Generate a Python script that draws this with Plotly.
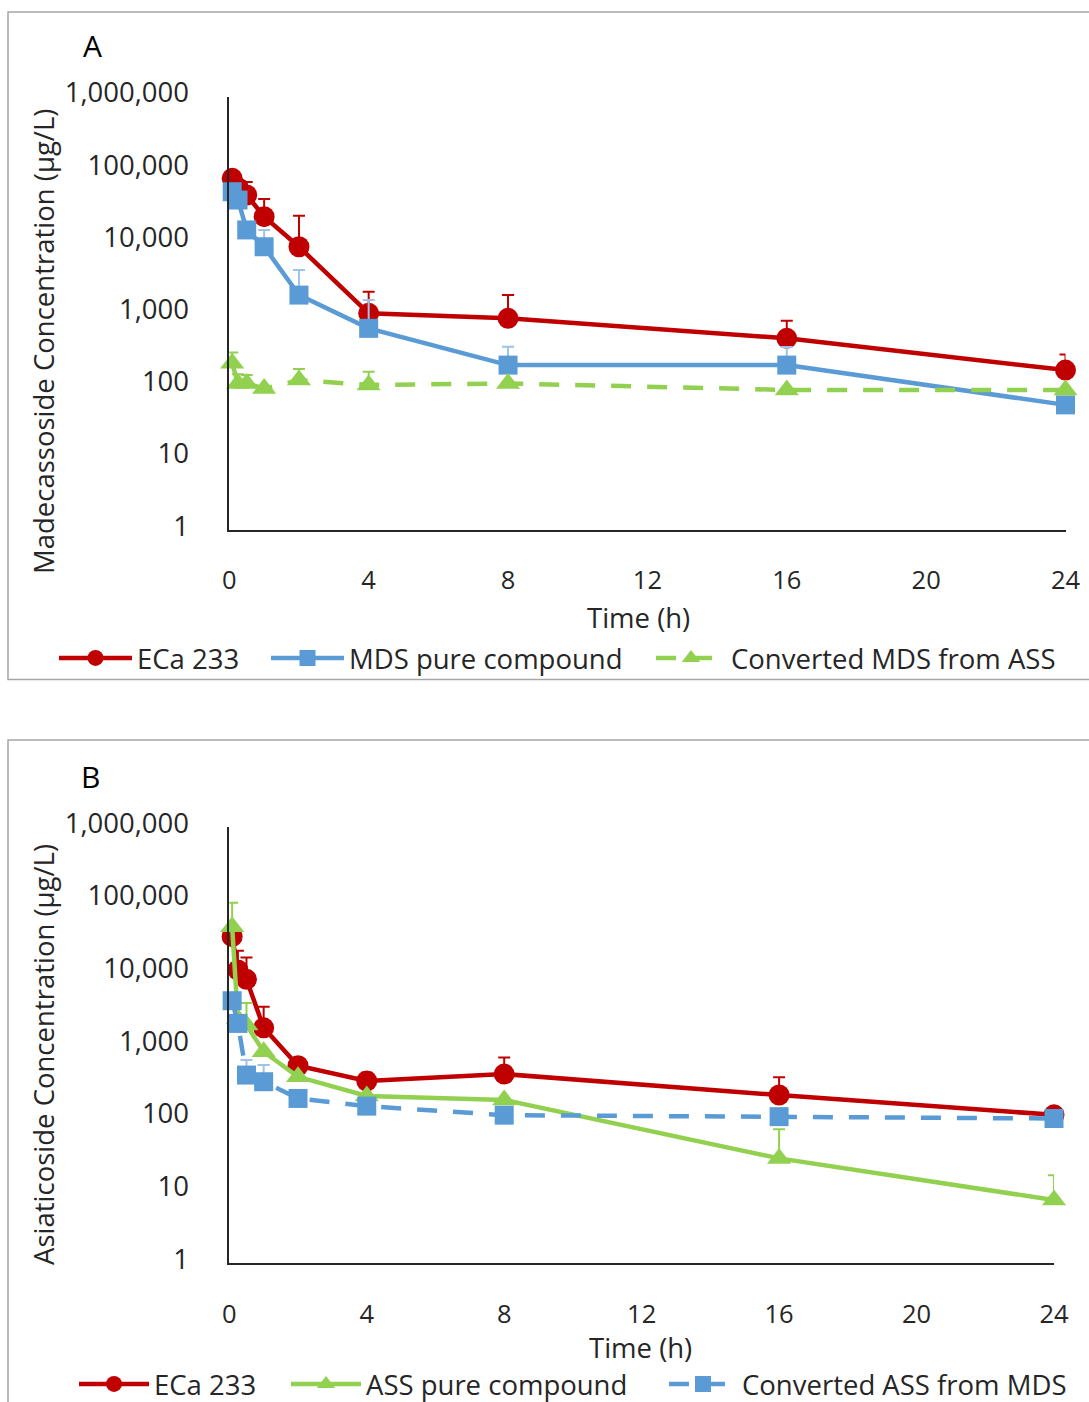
import plotly.graph_objects as go

W, H = 1089, 1402

# ---------------- data ----------------
time_h = [0.083, 0.25, 0.5, 1, 2, 4, 8, 16, 24]
x_ticks = [0, 4, 8, 12, 16, 20, 24]
y_ticks = [1, 10, 100, 1000, 10000, 100000, 1000000]
y_ticktext = ["1", "10", "100", "1,000", "10,000", "100,000", "1,000,000"]

# Panel A: Madecassoside (MDS) concentration, ug/L
a_eca = [74000, 55000, 43500, 21800, 8360, 1000, 853, 451, 164]
a_eca_err = [0, 0, 22400, 16500, 14100, 990, 940, 340, 106]
a_mds = [48300, 37100, 14300, 8360, 1790, 620, 192, 192, 54]
a_mds_err = [0, 0, 0, 5900, 2190, 910, 152, 150, 0]
a_conv = [203, 107, 107, 91, 119, 102, 107, 87, 87]
a_conv_err = [85, 37, 33, 0, 50, 53, 0, 0, 0]

# Panel B: Asiaticoside (ASS) concentration, ug/L
b_eca = [31000, 10800, 8040, 1730, 521, 321, 400, 206, 110]
b_eca_err = [0, 9100, 8060, 1640, 0, 96, 279, 155, 0]
b_ass = [42500, 2300, 1900, 811, 367, 200, 176, 27.7, 7.4]
b_ass_err = [48500, 1490, 1890, 0, 0, 0, 0, 42, 8.9]
b_conv = [4080, 1990, 388, 314, 185, 145, 109, 104, 98]
b_conv_err = [0, 0, 236, 218, 0, 0, 0, 0, 0]

RED, BLUE, GREEN = "#C00000", "#5B9BD5", "#92D050"
BLUE_ERR = "#9DC3E6"
FONT = "Open Sans"
TXT = "#262626"
FS = 27.5


def px_x(p):
    return p / W


def px_y(p):
    return 1 - p / H


def series(x, y, err, name, color, symbol, size, dash, xa, ya, legend, errcolor=None):
    return go.Scatter(
        x=x, y=y, name=name, mode="lines+markers",
        line=dict(color=color, width=4.5, dash=dash),
        marker=dict(color=color, symbol=symbol, size=size, line=dict(width=0)),
        error_y=dict(type="data", array=err, arrayminus=[0] * len(err), symmetric=False,
                     color=errcolor or color, thickness=2, width=6),
        xaxis=xa, yaxis=ya, legend=legend, cliponaxis=False,
    )


fig = go.Figure()
fig.add_trace(series(time_h, a_eca, a_eca_err, "ECa 233", RED, "circle", 21, "solid", "x", "y", "legend"))
fig.add_trace(series(time_h, a_mds, a_mds_err, "MDS pure compound", BLUE, "square", 19, "solid", "x", "y", "legend2", BLUE_ERR))
fig.add_trace(series(time_h, a_conv, a_conv_err, "Converted MDS from ASS", GREEN, "triangle-up", 21, "20px,16px", "x", "y", "legend3"))

fig.add_trace(series(time_h, b_eca, b_eca_err, "ECa 233", RED, "circle", 21, "solid", "x2", "y2", "legend4"))
fig.add_trace(series(time_h, b_ass, b_ass_err, "ASS pure compound", GREEN, "triangle-up", 21, "solid", "x2", "y2", "legend5"))
fig.add_trace(series(time_h, b_conv, b_conv_err, "Converted ASS from MDS", BLUE, "square", 19, "20px,16px", "x2", "y2", "legend6", BLUE_ERR))

xcommon = dict(range=[0, 24], tickvals=x_ticks, showline=True, linecolor="#262626", linewidth=1.5,
               showgrid=False, zeroline=False, ticks="", ticklabelstandoff=27, automargin=False,
               tickfont=dict(family=FONT, size=25.5, color=TXT))
ycommon = dict(type="log", range=[0, 6], tickvals=y_ticks, ticktext=y_ticktext, showline=True,
               linecolor="#262626", linewidth=1.5, showgrid=False, zeroline=False, ticks="",
               automargin=False, ticklabelstandoff=33, ticklabelshift=-4,
               tickfont=dict(family=FONT, size=FS, color=TXT))


def leg(xp, yp, iw):
    return dict(orientation="h", x=px_x(xp), y=px_y(yp), xanchor="left", yanchor="middle",
                font=dict(family=FONT, size=FS, color=TXT), itemwidth=iw, bgcolor="rgba(0,0,0,0)")


fig.update_layout(
    width=W, height=H, autosize=False,
    margin=dict(l=0, r=0, t=0, b=0, pad=0, autoexpand=False),
    paper_bgcolor="white", plot_bgcolor="white",
    font=dict(family=FONT, size=FS, color=TXT),
    xaxis=dict(domain=[px_x(229.3), px_x(1065.5)], anchor="y", **xcommon),
    yaxis=dict(domain=[px_y(530), px_y(96.7)], anchor="x", **ycommon),
    xaxis2=dict(domain=[px_x(229.3), px_x(1054)], anchor="y2", **xcommon),
    yaxis2=dict(domain=[px_y(1263.3), px_y(827)], anchor="x2", **ycommon),
    legend=leg(54, 658, 73),
    legend2=leg(266, 658, 73),
    legend3=leg(651, 658, 70),
    legend4=leg(74, 1384, 70),
    legend5=leg(286, 1384, 70),
    legend6=leg(664, 1384, 68),
    showlegend=True,
)

# panel frames
fig.add_shape(type="rect", xref="paper", yref="paper", x0=px_x(8), x1=px_x(1095), y0=px_y(679.5), y1=px_y(12),
              line=dict(color="#A6A6A6", width=1.5), fillcolor="rgba(0,0,0,0)", layer="below")
fig.add_shape(type="rect", xref="paper", yref="paper", x0=px_x(8), x1=px_x(1095), y0=px_y(1410), y1=px_y(740),
              line=dict(color="#A6A6A6", width=1.5), fillcolor="rgba(0,0,0,0)", layer="below")

# axis titles
fig.add_annotation(text="Madecassoside Concentration (μg/L)", xref="paper", yref="paper",
                   x=px_x(43), y=px_y(342), textangle=-90, showarrow=False,
                   font=dict(family=FONT, size=FS, color=TXT), xanchor="center", yanchor="middle")
fig.add_annotation(text="Asiaticoside Concentration (μg/L)", xref="paper", yref="paper",
                   x=px_x(43), y=px_y(1055), textangle=-90, showarrow=False,
                   font=dict(family=FONT, size=FS, color=TXT), xanchor="center", yanchor="middle")
fig.add_annotation(text="Time (h)", xref="paper", yref="paper", x=px_x(638), y=px_y(617),
                   showarrow=False, font=dict(family=FONT, size=FS, color=TXT),
                   xanchor="center", yanchor="middle")
fig.add_annotation(text="Time (h)", xref="paper", yref="paper", x=px_x(640), y=px_y(1347),
                   showarrow=False, font=dict(family=FONT, size=FS, color=TXT),
                   xanchor="center", yanchor="middle")
# panel letters
fig.add_annotation(text="A", xref="paper", yref="paper", x=px_x(92), y=px_y(46), showarrow=False,
                   font=dict(family=FONT, size=30, color="black"), xanchor="center", yanchor="middle")
fig.add_annotation(text="B", xref="paper", yref="paper", x=px_x(90), y=px_y(776), showarrow=False,
                   font=dict(family=FONT, size=30, color="black"), xanchor="center", yanchor="middle")

fig.write_html("out.html")
